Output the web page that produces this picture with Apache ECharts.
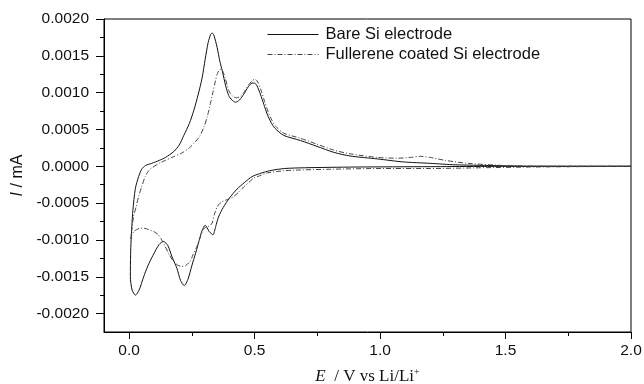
<!DOCTYPE html>
<html>
<head>
<meta charset="utf-8">
<script src="https://cdn.jsdelivr.net/npm/echarts@6/dist/echarts.min.js"></script>
<style>
    html, body { margin: 0; padding: 0; background: #fff; }
    #chart { width: 644px; height: 384px; }
</style>
</head>
<body>
<div id="chart"></div>
<script>
// 裸硅电极 (cathodic 2.0 -> 0, then anodic 0 -> 2.0)
var bareE = [2.0, 1.6, 1.2, 0.9, 0.7, 0.62, 0.56, 0.52, 0.49, 0.46, 0.43, 0.40, 0.375, 0.356, 0.345, 0.334, 0.32, 0.303, 0.29, 0.283, 0.265, 0.25, 0.235, 0.22, 0.205, 0.19, 0.17, 0.155, 0.137, 0.12, 0.095, 0.075, 0.058, 0.04, 0.025, 0.012, 0.005,
    0.006, 0.008, 0.015, 0.025, 0.038, 0.05, 0.065, 0.09, 0.12, 0.145, 0.178, 0.2, 0.218, 0.24, 0.258, 0.275, 0.291, 0.303, 0.315, 0.325, 0.331, 0.338, 0.351, 0.362, 0.371, 0.385, 0.397, 0.41, 0.424, 0.44, 0.457, 0.475, 0.49, 0.5, 0.51, 0.523, 0.537, 0.55, 0.565, 0.58, 0.616, 0.683, 0.749, 0.815, 0.88, 0.99, 1.09, 1.2, 1.3, 1.45, 1.6, 2.0];
var bareI = [0, 0, -0.000005, -0.00001, -0.00002, -0.00003, -0.00006, -0.0001, -0.00014, -0.00022, -0.00031, -0.00043, -0.00056, -0.00069, -0.00082, -0.00093, -0.00089, -0.0008, -0.00088, -0.00096, -0.00118, -0.00135, -0.00153, -0.00162, -0.00155, -0.00138, -0.00122, -0.00108, -0.00102, -0.00106, -0.00121, -0.00135, -0.0015, -0.00168, -0.00175, -0.00168, -0.0015,
    -0.0012, -0.001, -0.0006, -0.0003, -0.00014, -0.00004, 0.00001, 0.00004, 0.00008, 0.00012, 0.0002, 0.00029, 0.00042, 0.00058, 0.00076, 0.00097, 0.0012, 0.00145, 0.00168, 0.00179, 0.00181, 0.00178, 0.00161, 0.00142, 0.0013, 0.00109, 0.00096, 0.0009, 0.00087, 0.0009, 0.00098, 0.00108, 0.00113, 0.00113, 0.00109, 0.00098, 0.00084, 0.00071, 0.0006, 0.00052, 0.00042, 0.00035, 0.00027, 0.00019, 0.00014, 0.0001, 0.00006, 0.00004, 0.00002, 0.00001, 0, 0];

// 富勒烯包覆硅电极
var fullE = [2.0, 1.6, 1.4, 1.2, 1.0, 0.8, 0.683, 0.62, 0.55, 0.52, 0.497, 0.477, 0.457, 0.437, 0.417, 0.4, 0.385, 0.37, 0.36, 0.351, 0.34, 0.331, 0.32, 0.305, 0.295, 0.283, 0.27, 0.255, 0.243, 0.225, 0.21, 0.193, 0.177, 0.16, 0.144, 0.13, 0.117, 0.1, 0.078, 0.06, 0.045, 0.03, 0.018, 0.005,
    0.01, 0.018, 0.028, 0.038, 0.05, 0.064, 0.078, 0.091, 0.12, 0.144, 0.17, 0.21, 0.24, 0.258, 0.28, 0.298, 0.312, 0.324, 0.335, 0.344, 0.352, 0.36, 0.366, 0.372, 0.382, 0.397, 0.41, 0.428, 0.443, 0.457, 0.475, 0.49, 0.5, 0.51, 0.525, 0.54, 0.555, 0.57, 0.585, 0.616, 0.683, 0.749, 0.815, 0.88, 0.99, 1.07, 1.12, 1.16, 1.2, 1.26, 1.35, 1.5, 1.7, 2.0];
var fullI = [0, -0.00001, -0.00002, -0.00003, -0.00003, -0.00004, -0.00005, -0.00006, -0.00009, -0.00013, -0.00016, -0.00022, -0.00028, -0.00035, -0.00041, -0.00044, -0.00046, -0.00048, -0.00051, -0.00055, -0.00065, -0.00077, -0.00081, -0.00083, -0.00086, -0.00097, -0.00109, -0.0012, -0.00129, -0.00135, -0.00136, -0.00134, -0.00129, -0.0012, -0.00109, -0.001, -0.00093, -0.00089, -0.00086, -0.00084, -0.00084, -0.00086, -0.00089, -0.00098,
    -0.00088, -0.00068, -0.00055, -0.00041, -0.00028, -0.00014, -0.00006, -0.00002, 0.00004, 0.00008, 0.00012, 0.00018, 0.00025, 0.00031, 0.0004, 0.00053, 0.00068, 0.00085, 0.00102, 0.00116, 0.00126, 0.00131, 0.00132, 0.0013, 0.00121, 0.00103, 0.00096, 0.00093, 0.00095, 0.001, 0.0011, 0.00116, 0.00118, 0.00116, 0.00104, 0.00088, 0.00073, 0.00062, 0.00054, 0.00045, 0.00038, 0.0003, 0.00022, 0.00017, 0.00012, 0.00011, 0.00012, 0.000135, 0.00012, 0.00008, 0.00004, 0.00001, 0, 0];

var xMajor = [0, 0.5, 1.0, 1.5, 2.0];
var xMinor = [0.25, 0.75, 1.25, 1.75];
var yMajor = [-0.002, -0.0015, -0.001, -0.0005, 0, 0.0005, 0.001, 0.0015, 0.002];
var yMinor = [-0.00175, -0.00125, -0.00075, -0.00025, 0.00025, 0.00075, 0.00125, 0.00175];

var seriesNames = ['Bare Si electrode', 'Fullerene coated Si electrode'];

function toPairs(xs, ys) {
    return xs.map(function (x, i) { return [x, ys[i]]; });
}

function buildSeries(name, data, lineType, color) {
    return {
        name: name,
        type: 'line',
        data: data,
        symbol: 'none',
        smooth: 0.25,
        lineStyle: { color: color, width: 1, type: lineType },
        itemStyle: { color: color },
        emphasis: { disabled: true }
    };
}

var font = 'Liberation Sans, Arial, sans-serif';
var chart = echarts.init(document.getElementById('chart'));

chart.setOption({
    animation: false,
    grid: {
        left: 104, right: 13, top: 19, bottom: 52,
        outerBoundsMode: 'none',
        show: true, borderColor: '#000', borderWidth: 1
    },
    legend: {
        orient: 'vertical',
        left: 267, top: 26, padding: 0,
        itemWidth: 51, itemHeight: 14, itemGap: 3,
        data: seriesNames,
        itemStyle: { opacity: 0 },
        lineStyle: { width: 1 },
        textStyle: { fontFamily: font, fontSize: 16.5, color: '#111', padding: [0, 0, 0, 2] }
    },
    xAxis: [{
        type: 'value',
        min: -0.1, max: 2.0,
        splitLine: { show: false },
        axisLine: { onZero: false, lineStyle: { color: '#000', width: 1 } },
        axisTick: { customValues: xMajor, length: 7, lineStyle: { color: '#000' } },
        axisLabel: {
            customValues: xMajor, margin: 11,
            fontFamily: font, fontSize: 15.5, color: '#111',
            formatter: function (v) { return v.toFixed(1); }
        },
        name: '{i|E}{n|  / V vs Li/Li}{s|+}',
        nameLocation: 'middle', nameGap: 35,
        nameTextStyle: {
            rich: {
                i: { fontFamily: 'Liberation Serif', fontStyle: 'italic', fontSize: 17, color: '#111' },
                n: { fontFamily: 'Liberation Serif', fontSize: 17, color: '#111' },
                s: { fontFamily: 'Liberation Serif', fontSize: 10, color: '#111', padding: [0, 0, 10, 0] }
            }
        }
    }, {
        type: 'value',
        min: -0.1, max: 2.0,
        position: 'bottom',
        splitLine: { show: false },
        axisLine: { show: false, onZero: false },
        axisTick: { customValues: xMinor, length: 4, lineStyle: { color: '#000' } },
        axisLabel: { show: false }
    }],
    yAxis: [{
        type: 'value',
        min: -0.00225, max: 0.002,
        splitLine: { show: false },
        axisLine: { onZero: false, lineStyle: { color: '#000', width: 1 } },
        axisTick: { customValues: yMajor, length: 8, lineStyle: { color: '#000' } },
        axisLabel: {
            customValues: yMajor, margin: 15,
            fontFamily: font, fontSize: 15.5, color: '#111',
            formatter: function (v) { return v.toFixed(4); }
        },
        name: '{i|I} / mA',
        nameLocation: 'middle', nameGap: 76,
        nameTextStyle: {
            rich: {
                i: { fontFamily: font, fontStyle: 'italic', fontSize: 16, color: '#111' }
            },
            fontFamily: font, fontSize: 16, color: '#111'
        }
    }, {
        type: 'value',
        min: -0.00225, max: 0.002,
        position: 'left',
        splitLine: { show: false },
        axisLine: { show: false, onZero: false },
        axisTick: { customValues: yMinor, length: 4, lineStyle: { color: '#000' } },
        axisLabel: { show: false }
    }],
    series: [
        buildSeries(seriesNames[0], toPairs(bareE, bareI), 'solid', '#111'),
        buildSeries(seriesNames[1], toPairs(fullE, fullI), [5, 2, 1, 2], '#444')
    ]
});
</script>
</body>
</html>
